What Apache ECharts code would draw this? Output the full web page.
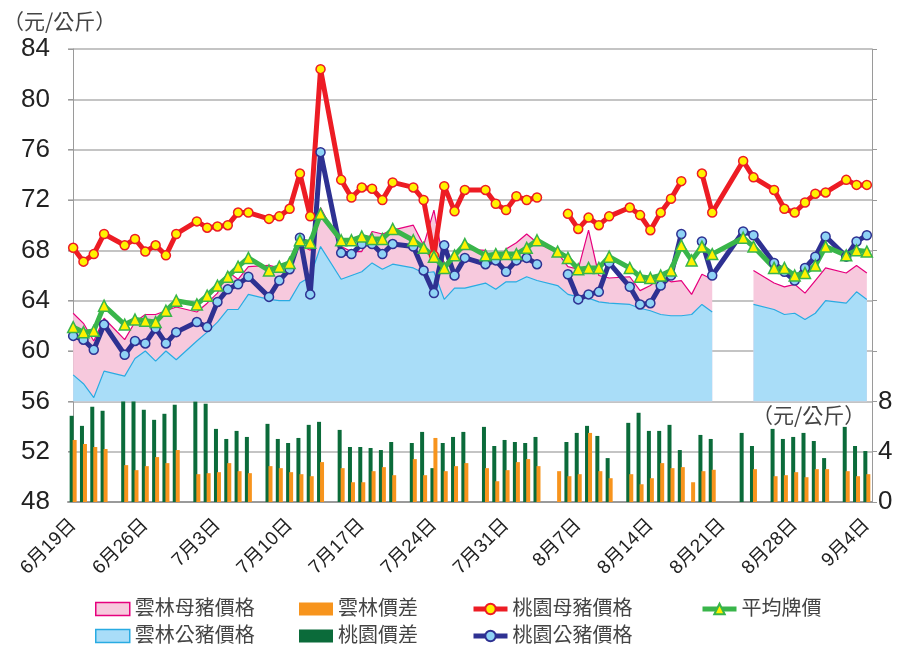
<!DOCTYPE html>
<html>
<head>
<meta charset="utf-8">
<script src="https://cdn.jsdelivr.net/npm/echarts@6/dist/echarts.min.js"></script>
<style>
  html, body { margin: 0; padding: 0; background: #fff; }
  #chart { width: 900px; height: 646px; }
</style>
</head>
<body>
<div id="chart"></div>
<script>
// 2014/6/19 ~ 9/4, one slot per day
// null = no auction that day (line joins over it), '-' = blank cell (line breaks)
const dayLabels = []
for (let i = 0; i < 78; i++) {
  const d = new Date(2014, 5, 19 + i)
  dayLabels.push((d.getMonth() + 1) + '月' + d.getDate() + '日')
}

// 雲林母豬價格
const yunlinSow = [
  63.0, 62.2, 60.8, 62.6, null, 60.9, 62.3, 62.9, 62.9, 63.2, 63.5, null, 63.1, 63.8,
  64.6, 66.3, 65.7, 66.7, null, 66.8, 66.6, 67.0, 68.4, 68.0, 71.4, null, 68.3, 67.9,
  67.9, 69.5, 69.3, 69.6, null, 70.0, 68.4, 71.2, 66.8, 67.9, 68.1, null, 68.0, 67.0,
  68.1, 68.6, 69.3, 68.6, null, 67.8, 66.7, 66.5, 69.6, 66.0, 65.8, null, 65.9, 64.8,
  65.2, 65.9, 65.5, 65.6, 64.5, 66.1, 65.7, '-', '-', '-', 66.4, null, 65.4, 65.1,
  65.3, 64.6, 65.6, 66.6, null, 66.2, 66.8, 66.2
]
// 雲林公豬價格
const yunlinBoar = [
  58.1, 57.4, 56.3, 58.4, null, 58.0, 59.4, 60.0, 59.2, 60.0, 59.3, null, 60.8, 61.5,
  62.3, 63.3, 63.3, 64.5, null, 64.1, 64.0, 64.0, 65.4, 65.9, 68.3, null, 65.7, 66.0,
  66.3, 67.0, 66.5, 66.9, null, 66.6, 66.2, 66.3, 64.1, 65.0, 65.0, null, 65.4, 64.9,
  65.5, 65.5, 65.9, 65.6, null, 65.2, 64.5, 64.3, 64.2, 63.9, 63.8, null, 63.7, 63.4,
  63.2, 62.9, 62.8, 62.8, 62.9, 63.7, 63.1, '-', '-', '-', 63.7, null, 63.3, 62.9,
  63.0, 62.5, 63.0, 64.0, null, 63.8, 64.7, 64.1
]
// 雲林價差
const yunlinDiff = [
  4.93, 4.61, 4.37, 4.21, null, 2.93, 2.53, 2.85, 3.57, 3.09, 4.13, null, 2.21, 2.29,
  2.37, 3.09, 2.45, 2.29, null, 2.85, 2.69, 2.37, 2.21, 2.05, 3.17, null, 2.69, 1.57,
  1.57, 2.45, 2.77, 2.13, null, 3.41, 2.13, 5.09, 2.45, 2.85, 3.09, null, 2.69, 1.65,
  2.53, 3.17, 3.41, 2.85, null, 2.45, 2.05, 2.21, 5.49, 2.45, 1.89, null, 2.21, 1.41,
  1.89, 3.09, 2.69, 2.77, 1.57, 2.45, 2.56, null, null, null, 2.61, null, 2.05, 2.13,
  2.37, 1.97, 2.61, 2.61, null, 2.45, 2.05, 2.21
]
// 桃園價差
const taoyuanDiff = [
  6.85, 6.05, 7.57, 7.25, null, 8.7, 8.1, 7.33, 6.53, 7.01, 7.73, null, 8.0, 7.81,
  5.81, 5.01, 5.65, 5.17, null, 6.21, 5.01, 4.69, 5.09, 6.13, 6.37, null, 5.73, 4.37,
  4.37, 4.29, 4.13, 4.77, null, 4.69, 5.57, 2.69, 4.69, 5.17, 5.57, null, 5.97, 4.45,
  4.93, 4.77, 4.69, 5.17, null, null, 4.77, 5.49, 6.05, 5.25, 3.49, null, 6.29, 7.09,
  5.65, 5.65, 6.13, 4.13, null, 5.33, 5.01, null, null, 5.49, 4.45, null, 5.81, 5.01,
  5.17, 5.49, 4.85, 3.49, null, 5.97, 4.45, 4.05
]
// 桃園母豬價格
const taoyuanSow = [
  68.2, 67.1, 67.7, 69.3, null, 68.4, 68.9, 67.9, 68.4, 67.6, 69.3, null, 70.3, 69.8,
  69.9, 70.0, 71.0, 71.0, null, 70.5, 70.7, 71.3, 74.1, 70.7, 82.4, null, 73.6, 72.2,
  73.0, 72.9, 72.0, 73.4, null, 73.0, 72.0, 67.6, 73.1, 71.1, 72.8, null, 72.8, 71.7,
  71.2, 72.3, 72.0, 72.2, null, '-', 70.9, 69.7, 70.6, 70.0, 70.7, null, 71.4, 70.8,
  69.6, 71.0, 72.1, 73.5, '-', 74.1, 71.0, null, null, 75.1, 73.8, null, 72.8, 71.3,
  71.0, 71.8, 72.5, 72.6, null, 73.6, 73.2, 73.2
]
// 桃園公豬價格
const taoyuanBoar = [
  61.2, 60.9, 60.1, 62.1, null, 59.7, 60.8, 60.6, 61.8, 60.6, 61.5, null, 62.3, 61.9,
  63.9, 64.9, 65.3, 65.9, null, 64.3, 65.6, 66.5, 69.0, 64.5, 75.8, null, 67.8, 67.7,
  68.5, 68.5, 67.7, 68.5, null, 68.3, 66.4, 64.6, 68.4, 66.0, 67.4, null, 66.9, 67.2,
  66.3, 67.2, 67.4, 66.9, null, '-', 66.1, 64.1, 64.5, 64.7, 67.0, null, 65.1, 63.7,
  63.8, 65.2, 66.0, 69.3, '-', 68.7, 66.0, null, null, 69.5, 69.2, null, 67.0, 66.3,
  65.6, 66.6, 67.5, 69.1, null, 67.5, 68.7, 69.2
]
// 平均牌價
const avgPrice = [
  61.9, 61.5, 61.6, 63.6, null, 62.1, 62.5, 62.4, 62.3, 63.2, 64.0, null, 63.7, 64.4,
  65.2, 65.9, 66.7, 67.4, null, 66.4, 66.7, 67.0, 68.8, 68.6, 70.9, null, 68.8, 68.8,
  69.1, 68.9, 68.9, 69.7, null, 68.8, 68.2, 67.5, 66.6, 67.6, 68.5, null, 67.6, 67.7,
  67.7, 67.7, 68.2, 68.8, null, 67.9, 67.4, 66.5, 66.6, 66.6, 67.5, null, 66.6, 65.9,
  65.8, 66.0, 66.4, 68.4, 67.2, 68.3, 67.7, null, null, 69.0, 68.3, null, 66.6, 66.6,
  66.0, 66.2, 66.8, 68.3, null, 67.6, 68.0, 67.9
]

const leftTicks = [48, 84, 4]     // min, max, step
const rightTicksShown = [0, 4, 8]

const FONT = "'Liberation Sans', Arial, 'Noto Sans CJK TC', sans-serif"

// days with no record are dropped, so the line runs straight across them
const pairs = arr => arr.map((v, i) => (v === null ? null : [i, v])).filter(p => p)

const chart = echarts.init(document.getElementById('chart'), null, { renderer: 'canvas' })

const lineSeries = (name, data, color, fill, symbol, size) => ({
  name,
  type: 'line',
  xAxisIndex: 1,
  data: pairs(data),
  symbol,
  symbolSize: size,
  showSymbol: true,
  lineStyle: { color, width: 5 },
  itemStyle: { color: fill, borderColor: color, borderWidth: 1.5 },
  z: 5
})

const areaSeries = (name, data, edge, fill) => ({
  name,
  type: 'line',
  xAxisIndex: 1,
  data: pairs(data),
  symbol: 'none',
  lineStyle: { color: edge, width: 1.2 },
  itemStyle: { color: fill },
  areaStyle: { color: fill, opacity: 1, origin: 56 },
  z: 2
})

const barSeries = (name, data, color) => ({
  name,
  type: 'bar',
  xAxisIndex: 1,
  yAxisIndex: 1,
  data: pairs(data),
  barWidth: 4,
  barGap: '-25%',
  itemStyle: { color },
  z: 1
})

// one legend per entry, laid out as in the original 2 x 4 block
const legendItem = (item, left, top) => ({
  left,
  top,
  itemWidth: 34,
  itemHeight: 13,
  selectedMode: false,
  lineStyle: { width: 5 },
  textStyle: { fontSize: 20, color: '#444', fontFamily: FONT },
  data: [item]
})
const row1 = 594
const row2 = 621

const option = {
  animation: false,
  textStyle: { fontFamily: FONT },
  grid: { left: 68, right: 28, top: 49, bottom: 144 },
  legend: [
    legendItem({ name: '雲林母豬價格', icon: 'rect', itemStyle: { color: '#f7c9dd', borderColor: '#e6007e', borderWidth: 1.5 } }, 90, row1),
    legendItem({ name: '雲林公豬價格', icon: 'rect', itemStyle: { color: '#a9ddf8', borderColor: '#29abe2', borderWidth: 1.5 } }, 90, row2),
    legendItem({ name: '雲林價差', icon: 'rect' }, 294, row1),
    legendItem({ name: '桃園價差', icon: 'rect' }, 294, row2),
    legendItem('桃園母豬價格', 466, row1),
    legendItem('桃園公豬價格', 466, row2),
    legendItem('平均牌價', 695, row1)
  ],
  graphic: [
    { type: 'text', left: 3, top: 11, style: { text: '（元/公斤）', font: "21px 'Noto Sans CJK TC', sans-serif", fill: '#444' } },
    { type: 'text', left: 752, top: 405, style: { text: '（元/公斤）', font: "21px 'Noto Sans CJK TC', sans-serif", fill: '#444' } }
  ],
  xAxis: [
    {
      type: 'category',
      data: dayLabels,
      boundaryGap: true,
      axisLine: { lineStyle: { color: '#9a9a9a', width: 2 } },
      axisTick: { show: false },
      axisLabel: { interval: 6, rotate: 45, fontSize: 19, color: '#222', margin: 20 },
      splitLine: { show: false }
    },
    {
      type: 'value',
      min: -0.5,
      max: 77.5,
      show: false
    }
  ],
  yAxis: [
    {
      type: 'value',
      min: leftTicks[0],
      max: leftTicks[1],
      interval: leftTicks[2],
      position: 'left',
      axisLine: { show: true, lineStyle: { color: '#9a9a9a', width: 1 } },
      axisTick: { show: true, length: 5, lineStyle: { color: '#9a9a9a' } },
      axisLabel: { fontSize: 26, color: '#222', margin: 18 },
      splitLine: { lineStyle: { color: '#b0b0b0', width: 1.5 } }
    },
    {
      type: 'value',
      min: 0,
      max: 36,
      interval: 4,
      position: 'right',
      axisLine: { show: true, lineStyle: { color: '#9a9a9a', width: 1 } },
      axisTick: { show: true, length: 5, lineStyle: { color: '#9a9a9a' } },
      axisLabel: {
        fontSize: 26,
        color: '#222',
        margin: 6,
        formatter: v => (rightTicksShown.includes(v) ? String(v) : '')
      },
      splitLine: { show: false }
    }
  ],
  series: [
    areaSeries('雲林母豬價格', yunlinSow, '#e6007e', '#f7c9dd'),
    areaSeries('雲林公豬價格', yunlinBoar, '#29abe2', '#a9ddf8'),
    barSeries('桃園價差', taoyuanDiff, '#0b6b3a'),
    barSeries('雲林價差', yunlinDiff, '#f7941d'),
    lineSeries('桃園母豬價格', taoyuanSow, '#ed1c24', '#fff200', 'circle', 9),
    lineSeries('桃園公豬價格', taoyuanBoar, '#2e3192', '#8fd3f5', 'circle', 9),
    lineSeries('平均牌價', avgPrice, '#39b54a', '#fff200', 'triangle', 11)
  ]
}

chart.setOption(option)
</script>
</body>
</html>
